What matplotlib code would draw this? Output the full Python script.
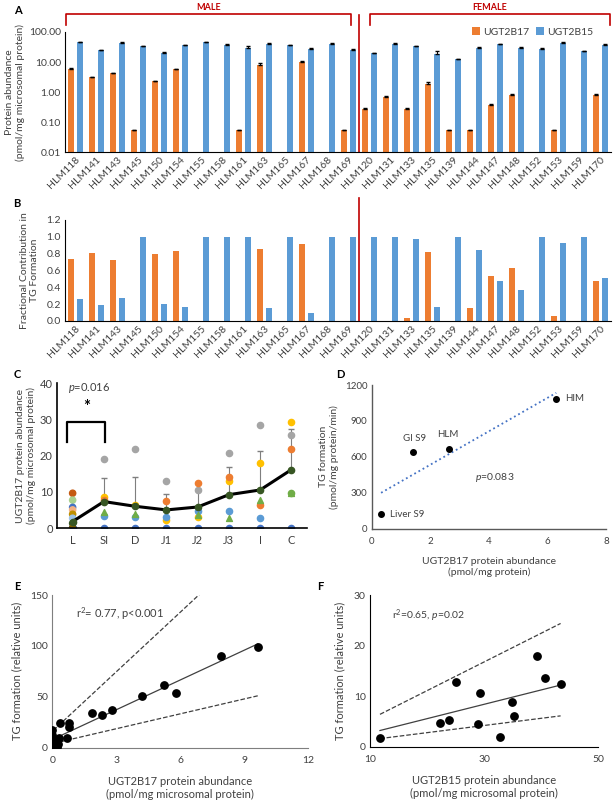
import numpy as np
import matplotlib
matplotlib.use('Agg')
import matplotlib.pyplot as plt
import matplotlib.transforms as mtrans

plt.rcParams['font.family'] = ['Lato', 'DejaVu Sans']
plt.rcParams['mathtext.fontset'] = 'custom'
plt.rcParams['mathtext.rm'] = 'Lato'
plt.rcParams['mathtext.it'] = 'Lato:italic'
plt.rcParams['axes.unicode_minus'] = False

ORANGE = '#ED7D31'
BLUE = '#5B9BD5'
GREY_TXT = '#404040'

# ---- data ----
samples = ['HLM118', 'HLM141', 'HLM143', 'HLM145', 'HLM150', 'HLM154', 'HLM155', 'HLM158',
           'HLM161', 'HLM163', 'HLM165', 'HLM167', 'HLM168', 'HLM169',
           'HLM120', 'HLM131', 'HLM133', 'HLM135', 'HLM139', 'HLM144', 'HLM147', 'HLM148',
           'HLM152', 'HLM153', 'HLM159', 'HLM170']
b17_abund = [6.1, 3.1, 4.2, 0.055, 2.3, 5.7, 0, 0, 0.055, 8.3, 0, 10.1, 0, 0.055,
             0.27, 0.67, 0.28, 1.84, 0.055, 0.055, 0.37, 0.84, 0, 0.055, 0, 0.84]
b17_err = [0.3, 0.1, 0.2, 0, 0.1, 0.2, 0, 0, 0, 1.0, 0, 0.4, 0, 0,
           0.02, 0.08, 0.03, 0.3, 0, 0, 0.05, 0.02, 0, 0, 0, 0.02]
b15_abund = [46, 24.7, 44, 34, 20.7, 36, 46, 36, 30.5, 41, 36, 28, 39, 26,
             20, 41, 34, 19.2, 12.4, 30.5, 39, 30.5, 28, 43, 22.9, 36]
b15_err = [2, 1, 2, 1, 1, 1, 1, 4, 5, 1, 1, 0.5, 3, 1,
           0.5, 3, 1, 4, 0.5, 0.5, 1.5, 0.5, 0.5, 2, 0.5, 3]

b17_frac = [0.74, 0.81, 0.73, 0, 0.80, 0.83, 0, 0, 0, 0.85, 0, 0.91, 0, 0,
            0, 0, 0.03, 0.82, 0, 0.15, 0.53, 0.63, 0, 0.06, 0, 0.48]
b15_frac = [0.26, 0.19, 0.27, 1.0, 0.20, 0.17, 1.0, 1.0, 1.0, 0.15, 1.0, 0.09, 1.0, 1.0,
            1.0, 1.0, 0.97, 0.17, 1.0, 0.84, 0.47, 0.37, 1.0, 0.93, 1.0, 0.51]

nan = np.nan
c_regions = ['L', 'SI', 'D', 'J1', 'J2', 'J3', 'I', 'C']
c_mean = [1.8, 7.3, 6.0, 5.0, 5.8, 9.2, 10.5, 16.1]
c_err = [0.8, 6.6, 8.0, 4.4, 5.0, 7.7, 10.8, 11.2]
c_gray = [nan, 19.0, 21.8, 13.1, 10.5, 20.6, 28.4, 25.8]
c_yellow = [nan, 8.6, 6.3, 2.1, 3.0, 13.1, 18.0, 29.3]
c_orange = [nan, 7.7, nan, 7.5, 12.3, 14.2, 6.3, 21.8]
c_ltblue = [nan, 3.4, 3.0, 3.0, 4.7, 4.7, 2.7, nan]
c_green = [nan, nan, nan, nan, nan, nan, nan, 9.7]
c_green_tri = [nan, 4.3, 4.0, nan, 3.6, 2.9, 7.7, 9.7]
c_zero = [0, 0, 0, 0, 0, 0, 0, 0]
liver_vals = [9.6, 7.7, 5.7, 5.0, 3.8, 2.7, 1.3, 0, 0]
liver_cols = ['#C55A11', '#A9D18E', '#4472C4', '#F4B183', '#BF9000', '#9DC3E6', '#375623',
              '#264478', '#7F6000']

d_names = ['Liver S9', 'GI S9', 'HLM', 'HIM']
d_x = [0.32, 1.42, 2.65, 6.3]
d_y = [118, 644, 664, 1084]

e_x = [9.63, 7.89, 5.25, 5.8, 4.19, 2.81, 2.34, 1.84, 0.36, 0.8, 0.8, 0.67, 0.33, 0.28,
       0, 0, 0.05, 0.1, 0.05, 0, 0.1, 0.2]
e_y = [99.2, 90, 61.6, 54, 50.8, 36.7, 32.4, 34, 24, 24, 20.6, 9.2, 10, 4,
       17, 12.4, 7.5, 4.3, 2, 0, 6, 1]

f_x = [11.75, 22.3, 23.9, 25.0, 29.0, 29.3, 32.7, 34.8, 35.3, 39.3, 40.7, 43.4]
f_y = [1.65, 4.75, 5.3, 12.7, 4.4, 10.7, 2.0, 8.8, 6.0, 18.0, 13.6, 12.4]
f_fit = [0.284, -0.14]  # slope, intercept of the line shown in F

fig = plt.figure(figsize=(6.15, 8.02), dpi=100)


def style(ax, fs=7.5):
    ax.tick_params(length=0, labelsize=fs, colors=GREY_TXT, pad=3)
    for s in ['top', 'right']:
        ax.spines[s].set_visible(False)


# ---- A ----
x = np.arange(len(samples))
axA = fig.add_axes([0.1057, 0.8099, 0.8878, 0.1502])
b17 = np.array(b17_abund)
m = b17 > 0
axA.bar(x[m] - 0.2, b17[m], 0.27, color=ORANGE, label='UGT2B17',
        yerr=[np.zeros(m.sum()), np.array(b17_err)[m]], error_kw=dict(lw=0.7, capsize=1.5, ecolor='black'))
axA.bar(x + 0.2, b15_abund, 0.27, color=BLUE, label='UGT2B15',
        yerr=[np.zeros(len(x)), b15_err], error_kw=dict(lw=0.7, capsize=1.5, ecolor='black'))
axA.set_yscale('log')
axA.set_ylim(0.01, 100)
axA.set_xlim(-0.5, len(samples) - 0.5)
axA.set_yticks([0.01, 0.1, 1, 10, 100])
axA.set_yticklabels(['0.01', '0.10', '1.00', '10.00', '100.00'])
axA.minorticks_off()
axA.set_xticks(x)
axA.set_xticklabels(samples, rotation=45, ha='right', rotation_mode='anchor', fontsize=7)
style(axA)
axA.tick_params(axis='x', pad=2)
axA.set_ylabel('Protein abundance\n(pmol/mg microsomal protein)', fontsize=7.5, color=GREY_TXT, labelpad=3)
axA.legend(loc='upper right', bbox_to_anchor=(0.985, 1.12), ncol=2, frameon=False, fontsize=7.5,
           handlelength=0.8, handleheight=0.8, handletextpad=0.3, columnspacing=0.6, labelcolor=GREY_TXT)
trA = mtrans.blended_transform_factory(axA.transData, axA.transAxes)
axA.plot([13.5, 13.5], [0, 1.141], color='#C00000', lw=1.2, transform=trA, clip_on=False)
for x0, x1, lab in [(-0.47, 13.1, 'MALE'), (14.03, 25.44, 'FEMALE')]:
    axA.plot([x0, x0, x1, x1], [1.06, 1.149, 1.149, 1.06], color='#C00000', lw=1.2,
             transform=trA, clip_on=False)
    axA.text((x0 + x1) / 2, 1.2, lab, color='#C00000', fontsize=6.5, fontweight='bold',
             ha='center', va='center', transform=trA)

# ---- B ----
axB = fig.add_axes([0.1057, 0.5998, 0.8878, 0.1259])
axB.bar(x - 0.2, b17_frac, 0.27, color=ORANGE)
axB.bar(x + 0.2, b15_frac, 0.27, color=BLUE)
axB.set_ylim(0, 1.2)
axB.set_xlim(-0.5, len(samples) - 0.5)
axB.set_yticks(np.arange(0, 1.21, 0.2))
axB.set_yticklabels(['%.1f' % v for v in np.arange(0, 1.21, 0.2)])
axB.set_xticks(x)
axB.set_xticklabels(samples, rotation=45, ha='right', rotation_mode='anchor', fontsize=7)
style(axB)
axB.tick_params(axis='x', pad=2)
axB.set_ylabel('Fractional Contribution in\nTG Formation', fontsize=7.5, color=GREY_TXT, labelpad=5)
trB = mtrans.blended_transform_factory(axB.transData, axB.transAxes)
axB.plot([13.5, 13.5], [0, 1.218], color='#C00000', lw=1.2, transform=trB, clip_on=False)

# ---- C ----
axC = fig.add_axes([0.0927, 0.3416, 0.4065, 0.1808])
xc = np.arange(len(c_regions))
axC.errorbar(xc, c_mean, yerr=[np.zeros(len(xc)), c_err], fmt='none', ecolor='#7F7F7F',
             lw=0.8, capsize=2.5, zorder=1)
axC.scatter(xc, c_zero, s=20, color='#4472C4', zorder=2)
axC.scatter(xc, c_gray, s=20, color='#A5A5A5', zorder=2)
axC.scatter(xc, c_yellow, s=20, color='#FFC000', zorder=2)
axC.scatter(xc, c_orange, s=20, color=ORANGE, zorder=2)
axC.scatter(xc, c_ltblue, s=20, color=BLUE, zorder=2)
axC.scatter(xc, c_green, s=20, color='#70AD47', zorder=2)
axC.scatter(xc, c_green_tri, s=18, marker='^', color='#70AD47', zorder=2)
axC.scatter(np.zeros(len(liver_vals)), liver_vals, s=20, color=liver_cols, zorder=2)
axC.plot(xc, c_mean, color='black', lw=2.2, marker='o', ms=4.5, mfc='#375623', mec='#375623', zorder=3)
axC.set_xlim(-0.5, len(c_regions) - 0.5)
axC.set_ylim(0, 40)
axC.set_yticks([0, 10, 20, 30, 40])
axC.set_xticks(xc)
axC.set_xticklabels(c_regions)
style(axC, 8)
axC.tick_params(axis='x', pad=5)
for s in ['left', 'bottom']:
    axC.spines[s].set_linewidth(1.2)
axC.set_ylabel('UGT2B17 protein abundance\n(pmol/mg microsomal protein)', fontsize=7.5,
               color=GREY_TXT, labelpad=3)
axC.plot([-0.19, -0.19, 1.05, 1.05], [23.6, 29.2, 29.2, 23.6], color='black', lw=1.6)
axC.text(0.45, 33.5, '*', fontsize=12, ha='center', va='center', fontweight='bold')
axC.text(-0.15, 38.6, '$p$=0.016', fontsize=8, color=GREY_TXT, ha='left', va='center')

# ---- D ----
axD = fig.add_axes([0.6044, 0.341, 0.381, 0.1789])
axD.scatter(d_x, d_y, s=16, color='black', zorder=3)
k, b = np.polyfit(d_x, d_y, 1)
xd = np.array([min(d_x), max(d_x)])
axD.plot(xd, k * xd + b, color='#4472C4', ls=':', lw=1.3)
axD.text(d_x[0] + 0.3, d_y[0], d_names[0], fontsize=7, color=GREY_TXT, ha='left', va='center')
axD.text(d_x[1] + 0.05, d_y[1] + 110, d_names[1], fontsize=7, color=GREY_TXT, ha='center', va='center')
axD.text(d_x[2] - 0.05, d_y[2] + 125, d_names[2], fontsize=7, color=GREY_TXT, ha='center', va='center')
axD.text(d_x[3] + 0.32, d_y[3], d_names[3], fontsize=7, color=GREY_TXT, ha='left', va='center')
axD.text(4.2, 430, '$p$=0.083', fontsize=7.5, color=GREY_TXT, ha='center', va='center')
axD.set_xlim(0, 8)
axD.set_ylim(0, 1200)
axD.set_xticks([0, 2, 4, 6, 8])
axD.set_yticks([0, 300, 600, 900, 1200])
style(axD, 7)
axD.tick_params(axis='x', pad=6)
for s in ['left', 'bottom']:
    axD.spines[s].set_color('#595959')
    axD.spines[s].set_linewidth(1.0)
axD.set_xlabel('UGT2B17 protein abundance\n(pmol/mg protein)', fontsize=7.5, color=GREY_TXT, labelpad=8)
axD.set_ylabel('TG formation\n(pmol/mg protein/min)', fontsize=7.5, color=GREY_TXT, labelpad=4)

# ---- E ----
axE = fig.add_axes([0.085, 0.0677, 0.4163, 0.1904])
axE.scatter(e_x, e_y, s=28, color='black', zorder=3)
k, b = np.polyfit(e_x, e_y, 1)
xe = np.array([0.05, max(e_x)])
axE.plot(xe, k * xe + b, color='#404040', lw=0.9)
axE.plot(xe, 2 * (k * xe + b), color='#404040', lw=0.9, ls='--')
axE.plot(xe, 0.5 * (k * xe + b), color='#404040', lw=0.9, ls='--')
axE.text(1.1, 132, 'r$^2$= 0.77, p<0.001', fontsize=8, color=GREY_TXT, ha='left', va='center')
axE.set_xlim(0, 12)
axE.set_ylim(0, 150)
axE.set_xticks([0, 3, 6, 9, 12])
axE.set_yticks([0, 50, 100, 150])
style(axE, 7.5)
axE.tick_params(axis='x', pad=6)
for s in ['left', 'bottom']:
    axE.spines[s].set_color('#7F7F7F')
axE.set_xlabel('UGT2B17 protein abundance\n(pmol/mg microsomal protein)', fontsize=8,
               color=GREY_TXT, labelpad=8)
axE.set_ylabel('TG formation (relative units)', fontsize=8, color=GREY_TXT, labelpad=6)

# ---- F ----
axF = fig.add_axes([0.6016, 0.069, 0.3712, 0.1891])
axF.scatter(f_x, f_y, s=28, color='black', zorder=3)
k, b = f_fit
xf = np.array([min(f_x), max(f_x)])
axF.plot(xf, k * xf + b, color='#404040', lw=0.9)
axF.plot(xf, 2 * (k * xf + b), color='#404040', lw=0.9, ls='--')
axF.plot(xf, 0.5 * (k * xf + b), color='#404040', lw=0.9, ls='--')
axF.text(13.8, 26, 'r$^2$=0.65, $p$=0.02', fontsize=7.5, color=GREY_TXT, ha='left', va='center')
axF.set_xlim(10, 50)
axF.set_ylim(0, 30)
axF.set_xticks([10, 30, 50])
axF.set_yticks([0, 10, 20, 30])
style(axF, 7.5)
axF.tick_params(axis='x', pad=6)
axF.set_xlabel('UGT2B15 protein abundance\n(pmol/mg microsomal protein)', fontsize=8,
               color=GREY_TXT, labelpad=8)
axF.set_ylabel('TG formation (relative units)', fontsize=8, color=GREY_TXT, labelpad=6)

# panel letters
for lab, px, py in [('A', 18, 10), ('B', 17, 204), ('C', 17, 375), ('D', 340, 375),
                    ('E', 17, 587), ('F', 320, 587)]:
    fig.text(px / 615, 1 - py / 802, lab, fontsize=8, fontweight='bold', ha='center', va='center')

fig.savefig('out.png', dpi=100)
